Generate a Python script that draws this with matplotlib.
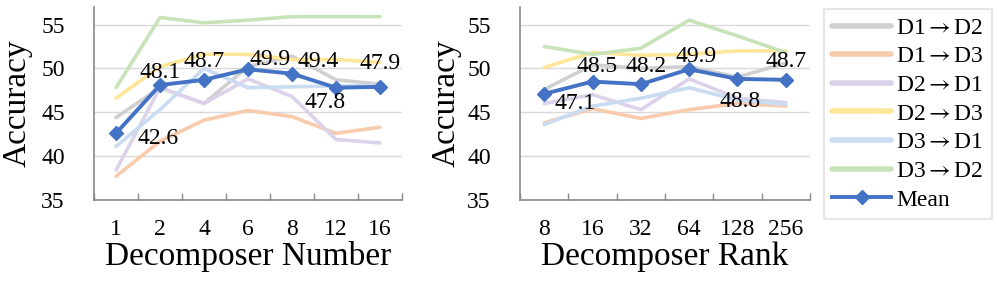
import numpy as np
import matplotlib
matplotlib.use("Agg")
import matplotlib.pyplot as plt

plt.rcParams['font.family'] = ['Liberation Serif', 'DejaVu Serif']
plt.rcParams['mathtext.fontset'] = 'stix'

# -------------------------
# Data
# -------------------------

series_names = ['D1$\\rightarrow$D2', 'D1$\\rightarrow$D3', 'D2$\\rightarrow$D1',
                'D2$\\rightarrow$D3', 'D3$\\rightarrow$D1', 'D3$\\rightarrow$D2']
series_colors = ['#d0d0d0', '#f8cbad', '#dcd2ea', '#ffe699', '#c9dcf1', '#c9e3b8']

num_labels = ['1', '2', '4', '6', '8', '12', '16']
num_d1d2 = [44.4, 47.8, 46.0, 50.2, 51.4, 48.7, 48.2]
num_d1d3 = [37.7, 41.7, 44.1, 45.2, 44.5, 42.6, 43.3]
num_d2d1 = [38.4, 47.8, 46.0, 48.8, 46.8, 41.9, 41.5]
num_d2d3 = [46.6, 50.2, 51.6, 51.6, 51.0, 51.0, 50.7]
num_d3d1 = [41.1, 45.3, 50.0, 47.8, 47.9, 48.0, 48.0]
num_d3d2 = [47.8, 55.8, 55.2, 55.5, 55.9, 55.9, 55.9]
num_mean = [42.6, 48.1, 48.7, 49.9, 49.4, 47.8, 47.9]

rank_labels = ['8', '16', '32', '64', '128', '256']
rank_d1d2 = [47.6, 50.4, 50.0, 50.2, 49.0, 50.6]
rank_d1d3 = [43.8, 45.4, 44.3, 45.3, 46.0, 45.7]
rank_d2d1 = [46.0, 47.0, 45.3, 48.8, 46.6, 46.1]
rank_d2d3 = [50.1, 51.8, 51.5, 51.6, 52.0, 52.0]
rank_d3d1 = [43.6, 45.7, 46.6, 47.8, 46.4, 45.9]
rank_d3d2 = [52.5, 51.6, 52.3, 55.5, 53.7, 51.8]
rank_mean = [47.1, 48.5, 48.2, 49.9, 48.8, 48.7]

# label offsets (points) for the mean values
num_offsets = [(30, -4), (0, 9), (0, 13), (16, 7), (19, 9), (-8, -11), (0, 17)]
rank_offsets = [(22, -7), (3, 11), (4, 13), (5, 9), (2, -16), (0, 13)]

# -------------------------
# Figure
# -------------------------

fig = plt.figure(figsize=(9.97, 2.83), dpi=100)
ax1 = fig.add_axes([0.0943, 0.2933, 0.3089, 0.682])
ax2 = fig.add_axes([0.5216, 0.2933, 0.2908, 0.682])

spine_c = '#898989'
grid_c = '#d9d9d9'


def draw_panel(ax, labels, series, mean, offsets, xlabel, ylab_x):
    x = np.arange(len(labels))
    handles = []
    for vals, name, col in zip(series, series_names, series_colors):
        h, = ax.plot(x, vals, color=col, lw=2.6, solid_capstyle='round',
                     solid_joinstyle='round', label=name, zorder=2)
        handles.append(h)
    h, = ax.plot(x, mean, color='#4472c4', lw=2.8, marker='D', ms=7,
                 label='Mean', zorder=4)
    handles.append(h)
    for xi, v, off in zip(x, mean, offsets):
        ax.annotate(f'{v:.1f}', (xi, v), xytext=off, textcoords='offset points',
                    ha='center', va='center', fontsize=17, zorder=5)

    ax.set_xlim(-0.5, len(labels) - 0.5)
    ax.set_ylim(35, 57)
    ax.set_yticks([35, 40, 45, 50, 55])
    ax.tick_params(axis='y', length=0, pad=21, labelsize=17)
    ax.set_xticks(np.arange(len(labels) + 1) - 0.5)
    ax.set_xticklabels([])
    ax.set_xticks(x, minor=True)
    ax.set_xticklabels(labels, minor=True)
    ax.tick_params(axis='x', which='major', direction='in', length=5,
                   color=spine_c, width=1)
    ax.tick_params(axis='x', which='minor', length=0, pad=14, labelsize=17)
    ax.grid(axis='y', color=grid_c, lw=1)
    ax.set_axisbelow(True)
    for s in ['top', 'right']:
        ax.spines[s].set_visible(False)
    for s in ['left', 'bottom']:
        ax.spines[s].set_color(spine_c)
        ax.spines[s].set_linewidth(1.2)
    ax.set_xlabel(xlabel, fontsize=24)
    ax.xaxis.set_label_coords(0.5, -0.215)
    ax.set_ylabel('Accuracy', fontsize=24)
    ax.yaxis.set_label_coords(ylab_x, 0.5)
    return handles


handles = draw_panel(ax1, num_labels,
                     [num_d1d2, num_d1d3, num_d2d1, num_d2d3, num_d3d1, num_d3d2],
                     num_mean, num_offsets, 'Decomposer Number', -0.198)
draw_panel(ax2, rank_labels,
           [rank_d1d2, rank_d1d3, rank_d2d1, rank_d2d3, rank_d3d1, rank_d3d2],
           rank_mean, rank_offsets, 'Decomposer Rank', -0.2)

leg = fig.legend(handles=handles, loc='upper left',
                 bbox_to_anchor=(0.8265, 0.968), bbox_transform=fig.transFigure,
                 fontsize=17, frameon=True, fancybox=False, borderaxespad=0,
                 handlelength=2.5, handletextpad=0.2, labelspacing=0.3,
                 borderpad=0.35)
leg.get_frame().set_edgecolor(grid_c)
leg.get_frame().set_linewidth(1.2)
for line in leg.get_lines()[:-1]:
    line.set_linewidth(4)

fig.savefig('out.png', dpi=100)
